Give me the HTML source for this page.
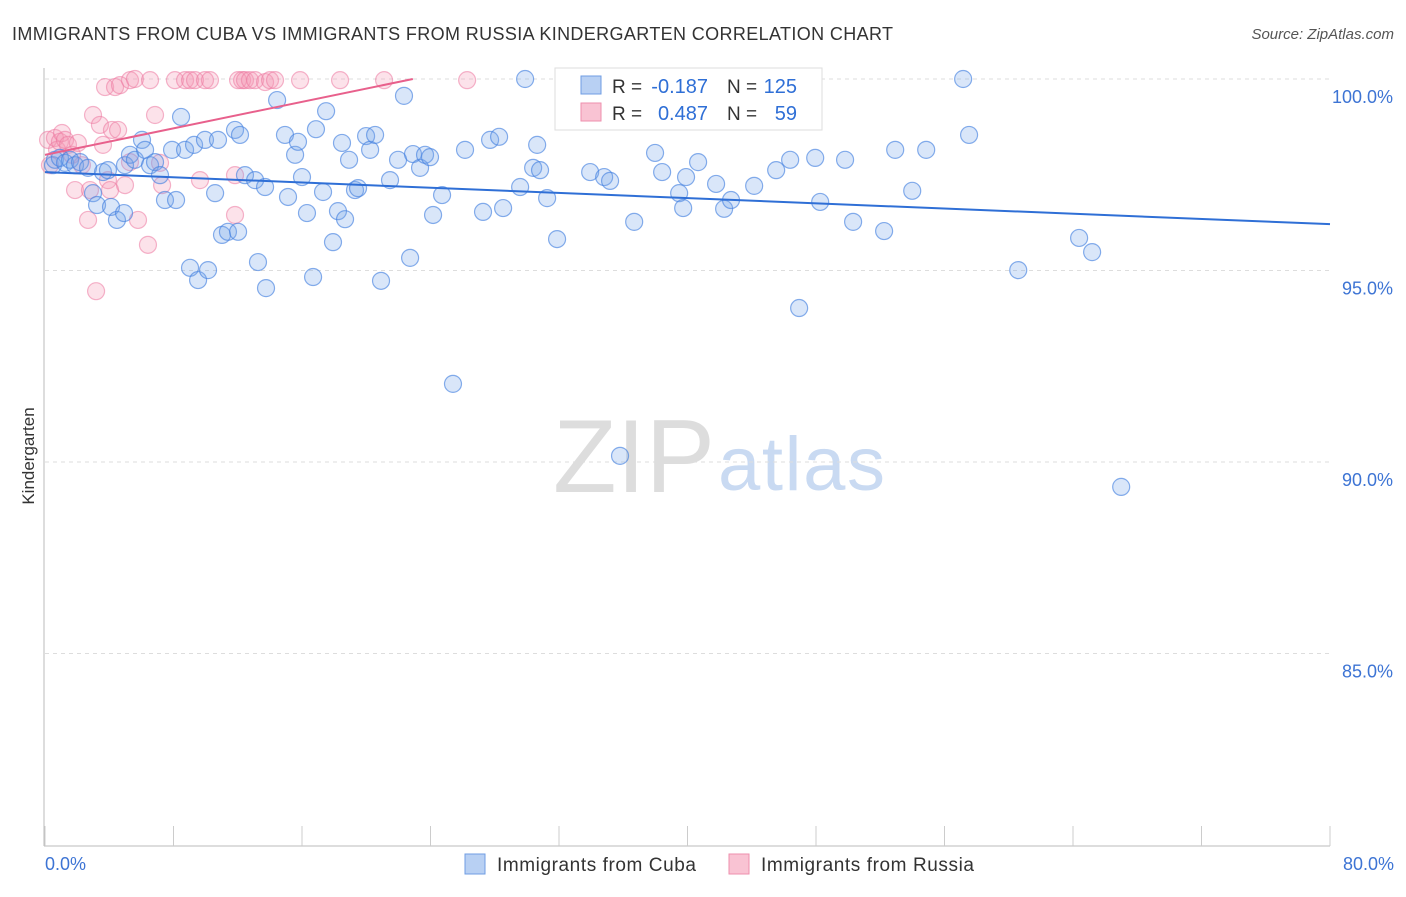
<!DOCTYPE html>
<html><head><meta charset="utf-8"><style>
body{margin:0;background:#fff;font-family:"Liberation Sans",sans-serif;}
svg text{font-family:"Liberation Sans",sans-serif;}
</style></head><body>
<svg id="chart" width="1406" height="892">
<text x="12" y="40" font-size="18" fill="#333" textLength="881" lengthAdjust="spacing">IMMIGRANTS FROM CUBA VS IMMIGRANTS FROM RUSSIA KINDERGARTEN CORRELATION CHART</text>
<text x="1394" y="39" font-size="15" fill="#555" font-style="italic" text-anchor="end">Source: ZipAtlas.com</text>
<text x="34" y="456" font-size="17" fill="#333" transform="rotate(-90 34 456)" text-anchor="middle">Kindergarten</text>
<g>
<text x="553" y="492" font-size="104" fill="#ddd" font-family="Liberation Serif" textLength="162">ZIP</text>
<text x="718" y="490" font-size="76" fill="#c9daf2" textLength="167">atlas</text>
</g>
<g id="grid"></g><g id="axes"></g><g id="pts"></g><g id="trend"></g>
<g>
<rect x="555" y="68" width="267" height="62" fill="#fff" stroke="#ddd"/>
<rect x="581" y="76" width="20" height="18" fill="#b8d0f3" stroke="#6f9de3"/>
<rect x="581" y="103" width="20" height="18" fill="#f9c3d3" stroke="#ee8fae"/>
<text x="612" y="93" font-size="19" fill="#333">R =</text>
<text x="708" y="93" font-size="20" fill="#2f6fd6" text-anchor="end">-0.187</text>
<text x="727" y="93" font-size="19" fill="#333">N =</text>
<text x="797" y="93" font-size="20" fill="#2f6fd6" text-anchor="end">125</text>
<text x="612" y="120" font-size="19" fill="#333">R =</text>
<text x="708" y="120" font-size="20" fill="#2f6fd6" text-anchor="end">0.487</text>
<text x="727" y="120" font-size="19" fill="#333">N =</text>
<text x="797" y="120" font-size="20" fill="#2f6fd6" text-anchor="end">59</text>
</g>
<g>
<rect x="465" y="854" width="20" height="20" fill="#b8d0f3" stroke="#6f9de3"/>
<text x="497" y="871" font-size="19" fill="#333" textLength="199">Immigrants from Cuba</text>
<rect x="729" y="854" width="20" height="20" fill="#f9c3d3" stroke="#ee8fae"/>
<text x="761" y="871" font-size="19" fill="#333" textLength="213">Immigrants from Russia</text>
</g>
</svg>
<script>
const cubaX=[.5,.62,.93,1.25,1.56,1.87,2.18,2.68,2.99,3.24,3.61,3.92,4.11,4.48,4.92,4.98,5.29,5.6,6.04,6.23,6.54,6.85,7.16,7.47,7.91,8.16,8.47,8.72,9.03,9.28,9.53,9.96,10.15,10.59,10.77,11.02,11.39,11.83,12.02,12.14,12.45,13.08,13.26,13.7,13.76,14.45,14.94,15.13,15.57,15.75,16.0,16.31,16.69,16.87,17.31,17.5,17.93,18.24,18.49,18.68,18.93,19.3,19.49,19.99,20.24,20.55,20.92,21.48,21.98,22.35,22.73,22.91,23.35,23.66,23.97,24.16,24.72,25.4,26.15,27.27,27.71,28.27,28.52,29.58,29.89,30.39,30.64,30.82,31.26,31.88,33.31,33.94,34.81,35.18,35.8,36.11,36.68,37.98,38.42,39.48,39.73,39.91,40.66,41.78,42.28,42.71,44.15,45.52,46.39,46.95,47.95,48.26,49.81,50.31,52.24,52.93,53.99,54.86,57.16,57.53,60.59,64.38,65.19,67.0];
const cubaY=[97.75,97.89,97.94,97.81,97.89,97.75,97.83,97.68,97.02,96.71,97.57,97.62,96.66,96.32,96.5,97.75,98.02,97.89,98.41,98.15,97.75,97.83,97.49,96.84,98.15,96.84,99.01,98.15,95.07,98.28,94.75,98.41,95.01,97.02,98.41,95.93,96.01,98.67,96.01,98.54,97.49,97.36,95.22,97.18,94.54,99.45,98.54,96.92,98.02,98.36,97.44,96.5,94.83,98.69,97.05,99.16,95.74,96.55,98.33,96.34,97.89,97.1,97.15,98.51,98.15,98.54,94.73,97.36,97.89,99.56,95.33,98.04,97.68,98.02,97.96,96.45,96.97,92.04,98.15,96.53,98.41,98.49,96.63,97.18,100,97.68,98.28,97.62,96.89,95.82,98.93,97.57,97.44,97.34,90.16,99.97,96.27,98.07,97.57,97.02,96.63,97.44,97.83,97.26,96.61,96.84,97.21,97.62,97.89,94.02,97.94,96.79,97.89,96.27,96.03,98.15,97.08,98.15,100,98.54,95.01,95.85,95.48,89.35];
const russiaX=[.19,.31,.62,.75,.93,1.06,1.25,1.43,1.68,1.87,2.05,2.3,2.68,2.8,2.99,3.18,3.42,3.61,3.92,4.05,4.17,4.55,3.74,4.36,4.67,5.29,5.6,5.79,6.41,6.54,6.85,7.29,8.09,8.72,9.03,9.34,9.65,9.96,10.27,11.83,11.83,12.02,12.27,12.45,12.76,13.08,13.7,14.01,14.32,15.88,18.37,21.11,26.28,34.56,7.16,5.29,4.98];
const russiaY=[98.41,97.75,98.46,98.15,98.36,98.59,98.41,98.28,98.02,97.1,98.33,97.75,96.32,97.1,99.06,94.46,98.8,98.28,97.36,97.1,98.67,98.67,99.79,99.79,99.84,99.97,100,96.32,95.67,99.97,99.06,97.23,99.97,99.97,99.97,99.97,97.36,99.97,99.97,97.49,96.45,99.97,99.97,99.97,99.97,99.97,99.92,99.97,99.97,99.97,99.97,99.97,99.97,99.97,97.81,97.83,97.23];
const cubaTrend=[97.57,96.21];
const russiaTrend=[98.02,100];const russiaTrendEnd=22.9;
const yTicks=[100,95,90,85];
const xTickLabels=["0.0%","80.0%"];
const X=v=>45+v/80*1285, Y=v=>79+(100-v)*38.3;
const NS="http://www.w3.org/2000/svg";
function mk(p,t,a){const e=document.createElementNS(NS,t);for(const k in a)e.setAttribute(k,a[k]);p.appendChild(e);return e;}
const grid=document.getElementById('grid'),axes=document.getElementById('axes'),pts=document.getElementById('pts'),tr=document.getElementById('trend');
yTicks.forEach(v=>{
const l=mk(grid,'line',{x1:45,x2:1330,y1:Y(v),y2:Y(v),stroke:'#ddd','stroke-dasharray':'4 4'});


const t=mk(axes,'text',{x:1393,y:Y(v)+24,'font-size':18,fill:'#3d74d4','text-anchor':'end'});t.textContent=v.toFixed(1)+'%';


});
const ya=mk(axes,'line',{x1:44,x2:44,y1:68,y2:846,stroke:'#bbb'});


const xa=mk(axes,'line',{x1:44,x2:1330,y1:846,y2:846,stroke:'#bbb'});


for(let i=0;i<=10;i++){const tk=mk(axes,'line',{x1:X(i*8),x2:X(i*8),y1:826,y2:846,stroke:'#ccc'});

}
[[0,'start',45],[80,'end',1394]].forEach((d,i)=>{const t=mk(axes,'text',{x:d[2],y:870,'font-size':18,fill:'#3d74d4','text-anchor':d[1]});t.textContent=xTickLabels[i];

});
russiaX.forEach((x,i)=>{const c=mk(pts,'circle',{cx:X(x),cy:Y(russiaY[i]),r:8.5,fill:'rgba(244,150,180,0.28)',stroke:'rgba(236,120,160,0.55)','stroke-width':1.2});

});
cubaX.forEach((x,i)=>{const c=mk(pts,'circle',{cx:X(x),cy:Y(cubaY[i]),r:8.5,fill:'rgba(120,165,235,0.28)',stroke:'rgba(70,130,225,0.65)','stroke-width':1.2});

});
const l1=mk(tr,'line',{x1:X(0),y1:Y(cubaTrend[0]),x2:X(80),y2:Y(cubaTrend[1]),stroke:'#2f6fd6','stroke-width':2});


const l2=mk(tr,'line',{x1:X(0),y1:Y(russiaTrend[0]),x2:X(russiaTrendEnd),y2:Y(russiaTrend[1]),stroke:'#e8608c','stroke-width':2});


</script>
</body></html>
